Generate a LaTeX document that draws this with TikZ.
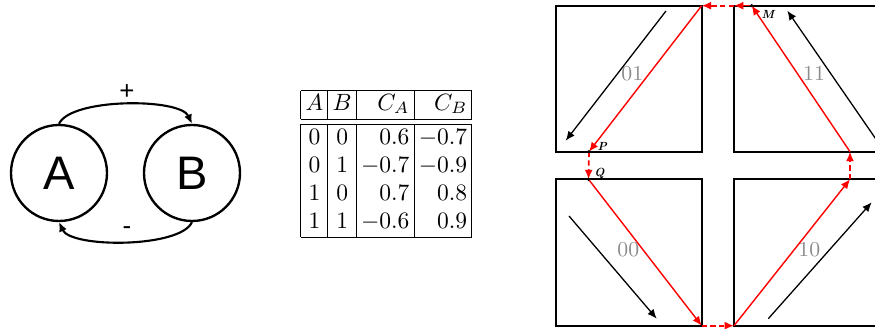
\documentclass[tikz,border=0pt]{standalone}
\usepackage{fontspec}
\setsansfont{Liberation Sans}
\usetikzlibrary{arrows.meta}
\begin{document}
\begin{tikzpicture}[x=0.425pt,y=-0.425pt,
  state/.style={circle,draw,line width=1pt,minimum size=40.8pt,inner sep=0pt,font=\sffamily\fontsize{20}{24}\selectfont},
  link/.style={line width=0.9pt,-{Latex[length=4pt,width=3.5pt]}},
  sign/.style={font=\sffamily\fontsize{11}{13}\selectfont,inner sep=0pt},
  box/.style={draw,line width=0.7pt},
  field/.style={line width=0.55pt,-{Latex[length=4pt,width=3.4pt]}},
  traj/.style={red,line width=0.6pt,-{Latex[length=4pt,width=3.4pt]}},
  jump/.style={traj,line width=0.75pt,dash pattern=on 2.2pt off 1.5pt},
  quad/.style={text=black!45,font=\fontsize{9}{10}\selectfont,inner sep=0pt},
  ptlabel/.style={font=\bfseries\itshape\fontsize{5}{6}\selectfont,inner sep=0pt},
  ]
\useasboundingbox (0,0) rectangle (875,329);
\clip (0,0) rectangle (875,329);

% --- left: A and B ---
\node[state] (A) at (59,173) {A};
\node[state] (B) at (192,173) {B};
\draw[link] (A.north) .. controls +(12,-26) and +(-12,-26) .. (B.north);
\draw[link] (B.south) .. controls +(-12,26) and +(12,26) .. (A.south);
\node[sign] (plus) at (127,92) {+};
\node[sign] (minus) at (127,231) {-};

% --- table ---
\node[inner sep=0pt] (tab) at (386.4,164) {\setlength{\tabcolsep}{2pt}%
\begin{tabular}{|c|c|r|r|}
\hline
$A$ & $B$ & $C_A$ & $C_B$\\
\hline\hline
0 & 0 & $0.6$ & $-0.7$\\
0 & 1 & $-0.7$ & $-0.9$\\
1 & 0 & $0.7$ & $0.8$\\
1 & 1 & $-0.6$ & $0.9$\\
\hline
\end{tabular}};

% --- squares ---
\draw[box] (555.7,5.7) rectangle (701.7,151.7);
\draw[box] (734,5.7) rectangle (880,151.7);
\draw[box] (555.7,179.3) rectangle (701.7,325.7);
\draw[box] (734,179.3) rectangle (880,325.7);

\node[quad] (q01) at (632.3,73.3) {01};
\node[quad] (q11) at (814,73.3) {11};
\node[quad] (q00) at (628.3,249.3) {00};
\node[quad] (q10) at (809.3,249.3) {10};

% black vector field arrows
\coordinate (f01s) at (666,11);     \coordinate (f01e) at (565.7,140.7);
\coordinate (f11s) at (880,145);    \coordinate (f11e) at (787.3,10.7);
\coordinate (f00s) at (569,216);    \coordinate (f00e) at (656.7,318.7);
\coordinate (f10s) at (768.3,318.7); \coordinate (f10e) at (871.7,202.3);
\draw[field] (f01s) -- (f01e);
\draw[field] (f11s) -- (f11e);
\draw[field] (f00s) -- (f00e);
\draw[field] (f10s) -- (f10e);

% red trajectory
\coordinate (M) at (751.7,5.7);
\coordinate (P) at (589,151.7);
\coordinate (Q) at (588.5,179.3);
\coordinate (c01) at (701.7,5.7);
\coordinate (l11) at (734,5.7);
\coordinate (b11) at (850,151.7);
\coordinate (t10) at (850,179.3);
\coordinate (r00) at (701.7,325.7);
\coordinate (l10) at (734,325.7);
\draw[traj] (Q) -- (r00);
\draw[jump] (r00) -- (l10);
\draw[traj] (l10) -- (t10);
\draw[jump] (t10) -- (b11);
\draw[traj] (b11) -- (M);
\draw[traj] (M) -- (l11);
\draw[jump] (l11) -- (c01);
\draw[traj] (c01) -- (P);
\draw[jump] (P) -- (Q);

\fill (M) circle (0.75pt);
\fill (P) circle (0.75pt);
\fill (Q) circle (0.75pt);
\node[ptlabel] (Ml) at (768,14) {M};
\node[ptlabel] (Pl) at (602.3,146) {P};
\node[ptlabel] (Ql) at (599.3,173.3) {Q};
\end{tikzpicture}
\end{document}
